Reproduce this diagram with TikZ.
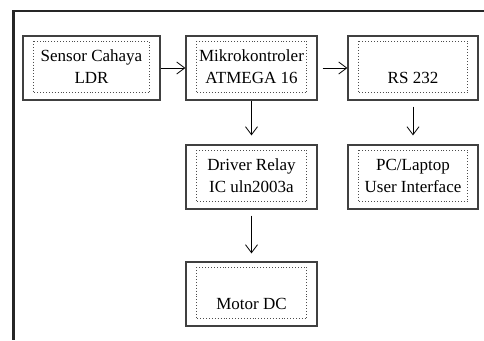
\documentclass[tikz,border=0pt]{standalone}
\usepackage{fontspec}
\setmainfont{Liberation Serif}
\usetikzlibrary{arrows.meta}

\tikzset{
    blok/.style={draw=black!75, line width=1.2pt, minimum width=131pt, minimum height=64pt,
        inner sep=0pt, align=center, font=\fontsize{17}{22}\selectfont},
    panah/.style={line width=0.8pt, -{Straight Barb[length=8pt,width=12pt]}}
}

\begin{document}
\begin{tikzpicture}[x=1pt, y=-1pt]
    \useasboundingbox (0,0) rectangle (484,340);

    % frame
    \draw[line width=2.5pt, black!85] (484,11) -- (13.5,11) -- (13.5,340);

    \node[blok, minimum width=137pt] (sensor) at (91.5,68) {\strut Sensor Cahaya\\\strut LDR};
    \node[blok] (mcu) at (251.5,68) {\strut Mikrokontroler\\\strut ATMEGA 16};
    \node[blok, minimum width=130pt] (rs) at (413,68) {\strut\\\strut RS 232};
    \node[blok] (driver) at (251.5,177) {\strut Driver Relay\\\strut IC uln2003a};
    \node[blok, minimum width=130pt] (pc) at (413,177) {\strut PC/Laptop\\\strut User Interface};
    \node[blok] (motor) at (251.5,294) {\strut\\\strut Motor DC};

    % dotted inner boxes
    \foreach \b in {sensor, mcu, rs, driver, pc, motor}
        \draw[dotted, line width=0.9pt, black!70] ([shift={(11,6)}]\b.north west) rectangle ([shift={(-11,-8)}]\b.south east);

    \draw[panah] (sensor) -- (mcu);
    \draw[panah, shorten <=5pt] (mcu) -- (rs);
    \draw[panah, shorten >=9pt] (mcu) -- (driver);
    \draw[panah, shorten <=6pt, shorten >=9pt] (rs) -- (pc);
    \draw[panah, shorten <=6pt, shorten >=8pt] (driver) -- (motor);

\end{tikzpicture}
\end{document}
